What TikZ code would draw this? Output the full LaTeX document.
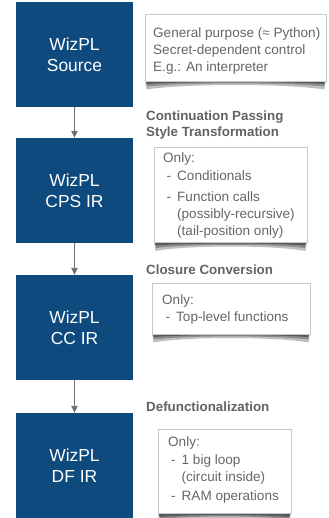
\documentclass[tikz,border=0pt]{standalone}
\usepackage{fontspec}
\setmainfont{Liberation Sans}
\usetikzlibrary{arrows.meta,calc}
\definecolor{wizblue}{RGB}{14,74,126}
\definecolor{headgray}{RGB}{98,98,98}
\definecolor{notegray}{RGB}{102,102,102}
\definecolor{arrgray}{RGB}{112,112,112}
\definecolor{noteborder}{RGB}{200,200,200}
\begin{document}
\begin{tikzpicture}[x=1bp,y=-1bp,
  irbox/.style={fill=wizblue, draw=none, minimum width=117bp, minimum height=105bp,
    inner sep=0, text=white, align=center, font=\fontsize{17.5}{21}\selectfont},
  note/.style={fill=white, draw=noteborder, line width=0.8bp, inner sep=0},
  noteline/.style={anchor=base west, inner sep=0, text=notegray, font=\fontsize{13.6}{16}\selectfont},
  heading/.style={anchor=base west, inner sep=0, text=headgray, font=\bfseries\fontsize{13.4}{16}\selectfont},
  flow/.style={draw=arrgray, line width=0.9bp, -{Triangle[width=6.5bp,length=7bp]}},
  shadowsoft/.style={fill=black!25},
  shadowmid/.style={fill=black!45},
  shadowdark/.style={fill=black!65},
  notesh/.pic={
    \fill[shadowsoft] (0,0) -- (1.5,9.5) .. controls (0.22*\pw,3.5) and (0.78*\pw,3.5) .. (\pw-1.5,9.5) -- (\pw,0) -- cycle;
    \fill[shadowmid] (0.5,0) -- (2,6.5) .. controls (0.22*\pw,2.3) and (0.78*\pw,2.3) .. (\pw-2,6.5) -- (\pw-0.5,0) -- cycle;
    \fill[shadowdark] (0.5,0) -- (2,4) .. controls (0.22*\pw,1.4) and (0.78*\pw,1.4) .. (\pw-2,4) -- (\pw-0.5,0) -- cycle;
  }
]
\useasboundingbox (0,0) rectangle (328,518);

% IR boxes
\node[irbox] (src) at (74.5,54.5) {WizPL\\Source};
\node[irbox] (cps) at (74.5,190.5) {WizPL\\CPS IR};
\node[irbox] (cc)  at (74.5,327.5) {WizPL\\CC IR};
\node[irbox] (df)  at (74.5,465.5) {WizPL\\DF IR};

\draw[flow] (src) -- (cps);
\draw[flow] (cps) -- (cc);
\draw[flow] (cc) -- (df);

% headings
\node[heading] (h1a) at (146,121) {Continuation Passing};
\node[heading] (h1b) at (146,137) {Style Transformation};
\node[heading] (h2)  at (146,274) {Closure Conversion};
\node[heading] (h3)  at (146,411) {Defunctionalization};

% note 1
\def\pw{181}\pic at (145,80) {notesh};
\node[note, minimum width=181bp, minimum height=67bp] (n1) at (235.5,47.5) {};
\node[noteline] (n1a) at (153,37.5) {General purpose (≈ Python)};
\node[noteline] (n1b) at (153,54.5) {Secret-dependent control};
\node[noteline] (n1c) at (153,71.5) {E.g.: An interpreter};

% note 2
\def\pw{153}\pic at (154,241.5) {notesh};
\node[note, minimum width=153bp, minimum height=95.5bp] (n2) at (230.5,194.75) {};
\node[noteline] (n2a) at (163,162.7) {Only:};
\node[noteline] (n2b) at (166.5,180.7) {\makebox[10.5bp][l]{-}Conditionals};
\node[noteline] (n2c) at (166.5,201.7) {\makebox[10.5bp][l]{-}Function calls};
\node[noteline] (n2d) at (177,218.7) {(possibly-recursive)};
\node[noteline] (n2e) at (177,235.7) {(tail-position only)};

% note 3
\def\pw{158}\pic at (152,333) {notesh};
\node[note, minimum width=158bp, minimum height=51bp] (n3) at (231,308.5) {};
\node[noteline] (n3a) at (162,304.5) {Only:};
\node[noteline] (n3b) at (165.5,321) {\makebox[10.5bp][l]{-}Top-level functions};

% note 4
\def\pw{133}\pic at (158,513) {notesh};
\node[note, minimum width=133bp, minimum height=84bp] (n4) at (224.5,471) {};
\node[noteline] (n4a) at (168,446.7) {Only:};
\node[noteline] (n4b) at (171,464.7) {\makebox[10.5bp][l]{-}1 big loop};
\node[noteline] (n4c) at (181.5,481.7) {(circuit inside)};
\node[noteline] (n4d) at (171,500.7) {\makebox[10.5bp][l]{-}RAM operations};
\end{tikzpicture}
\end{document}
